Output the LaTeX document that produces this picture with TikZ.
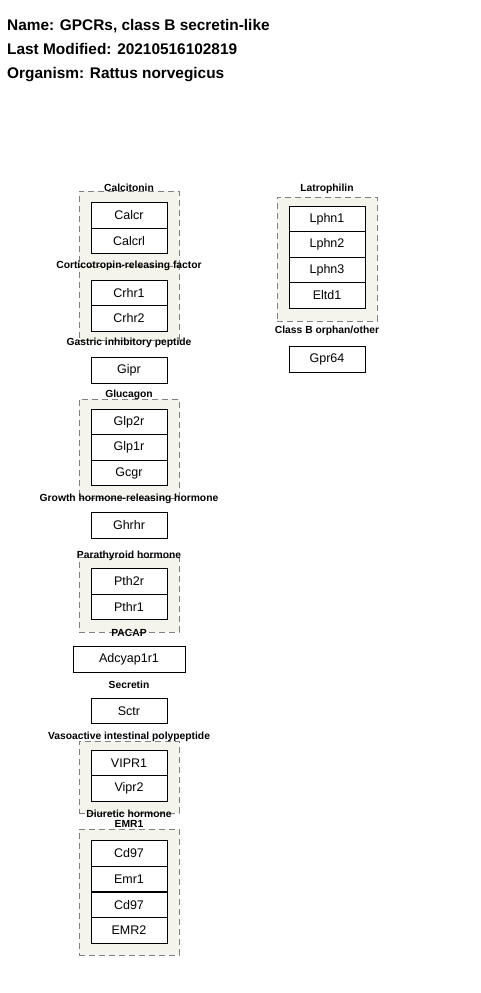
\documentclass[tikz,border=0pt]{standalone}
\usepackage{fontspec}
\setmainfont{Liberation Sans}
\definecolor{grpfill}{RGB}{244,244,236}
\definecolor{grpline}{RGB}{128,128,128}
\begin{document}
\begin{tikzpicture}[x=1pt,y=-1pt,
 gene/.style={draw=black, line width=1pt, fill=white, minimum width=76pt, minimum height=25.5pt, inner sep=0pt, font=\fontsize{12.5}{14}\selectfont},
 grp/.style={draw=grpline, fill=grpfill, dash pattern=on 6pt off 4pt, line width=1pt, minimum width=100pt, inner sep=0pt},
 glabel/.style={font=\bfseries\fontsize{10.3}{12}\selectfont, inner sep=0pt},
 title/.style={font=\bfseries\fontsize{15.4}{18}\selectfont, anchor=base west, inner sep=0pt}]
\useasboundingbox (0,0) rectangle (480,993);
% header
\node[title] (t1) at (7,30) {Name: GPCRs, class B secretin-like};
\node[title] (t2) at (7,54) {Last Modified: 20210516102819};
\node[title] (t3) at (7,78) {Organism: Rattus norvegicus};
% groups
\node[grp, minimum height=75pt] (gcalc) at (129,228.5) {};
\node[grp, minimum height=74pt] (gcrf) at (129,303) {};
\node[grp, minimum height=99pt] (gglu) at (129,448.5) {};
\node[grp, minimum height=75pt] (gpth) at (129,594.5) {};
\node[grp, minimum height=72pt] (gvip) at (129,777) {};
\node[grp, minimum height=126pt] (gemr) at (129,892) {};
\node[grp, minimum height=124pt] (glat) at (327,259) {};
% genes left
\node[gene] (calcr) at (129,215.5) {Calcr};
\node[gene] (calcrl) at (129,241) {Calcrl};
\node[gene] (crhr1) at (129,293.5) {Crhr1};
\node[gene] (crhr2) at (129,318.5) {Crhr2};
\node[gene] (gipr) at (129,370.5) {Gipr};
\node[gene] (glp2r) at (129,422) {Glp2r};
\node[gene] (glp1r) at (129,447.5) {Glp1r};
\node[gene] (gcgr) at (129,473) {Gcgr};
\node[gene] (ghrhr) at (129,525.5) {Ghrhr};
\node[gene] (pth2r) at (129,581.5) {Pth2r};
\node[gene] (pthr1) at (129,607) {Pthr1};
\node[gene, minimum width=112pt] (adcyap) at (129,659.5) {Adcyap1r1};
\node[gene] (sctr) at (129,711) {Sctr};
\node[gene] (vipr1) at (129,763) {VIPR1};
\node[gene] (vipr2) at (129,788.5) {Vipr2};
\node[gene] (cd97a) at (129,853.5) {Cd97};
\node[gene] (emr1) at (129,879) {Emr1};
\node[gene] (cd97b) at (129,905) {Cd97};
\node[gene] (emr2) at (129,930.5) {EMR2};
% genes right
\node[gene] (lphn1) at (327,219.5) {Lphn1};
\node[gene] (lphn2) at (327,244.5) {Lphn2};
\node[gene] (lphn3) at (327,270) {Lphn3};
\node[gene] (eltd1) at (327,295.5) {Eltd1};
\node[gene] (gpr64) at (327,359.5) {Gpr64};
% group labels
\node[glabel] (lcalc) at (129,188) {Calcitonin};
\node[glabel] (lcrf) at (129,266) {Corticotropin-releasing factor};
\node[glabel] (lgip) at (129,343) {Gastric inhibitory peptide};
\node[glabel] (lglu) at (129,395) {Glucagon};
\node[glabel] (lghr) at (129,499) {Growth hormone-releasing hormone};
\node[glabel] (lpth) at (129,556) {Parathyroid hormone};
\node[glabel] (lpac) at (129,633) {PACAP};
\node[glabel] (lsec) at (129,685) {Secretin};
\node[glabel] (lvip) at (129,737) {Vasoactive intestinal polypeptide};
\node[glabel] (ldiu) at (129,814) {Diuretic hormone};
\node[glabel] (lemr) at (129,824) {EMR1};
\node[glabel] (llat) at (327,189) {Latrophilin};
\node[glabel] (lorph) at (327,331) {Class B orphan/other};
\end{tikzpicture}
\end{document}
